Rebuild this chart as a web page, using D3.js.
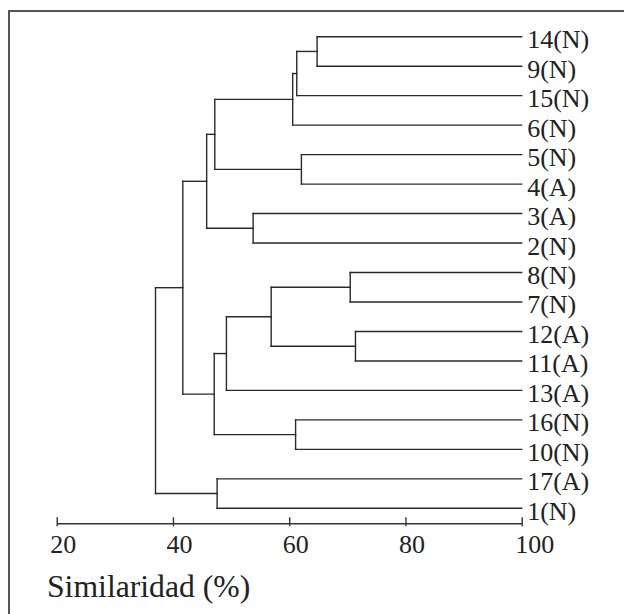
<!DOCTYPE html>
<html>
<head>
<meta charset="utf-8">
<script src="https://cdn.jsdelivr.net/npm/d3@7"></script>
<style>
  html, body { margin: 0; padding: 0; background: #fff; }
  svg { display: block; }
</style>
</head>
<body>
<script>
// Leaves, top to bottom
const leaves = ["14(N)","9(N)","15(N)","6(N)","5(N)","4(A)","3(A)","2(N)","8(N)","7(N)","12(A)","11(A)","13(A)","16(N)","10(N)","17(A)","1(N)"];
// Merges: [childA, childB, similarity]; ids < 17 are leaves, id 17+k is merge k
const mergeA = [0, 17, 18, 4, 19, 6, 21, 8, 10, 24, 26, 13, 27, 23, 15, 30];
const mergeB = [1, 2, 3, 5, 20, 7, 22, 9, 11, 25, 12, 14, 28, 29, 16, 31];
const mergeSim = [64.8, 61.3, 60.6, 62.1, 47.2, 53.8, 45.8, 70.5, 71.4, 56.9, 49.2, 61.1, 47.1, 41.7, 47.6, 37.0];
const tickValues = [20, 40, 60, 80, 100];
const axisTitle = "Similaridad (%)";

const FONT = "'Liberation Serif', serif";
const W = 624, H = 614;
const svg = d3.select("body").append("svg").attr("width", W).attr("height", H);

// frame (top + left)
svg.append("path")
  .attr("d", `M9,614 L9,11 L624,11`)
  .attr("fill", "none").attr("stroke", "#555").attr("stroke-width", 2);

const x = d3.scaleLinear().domain([20, 100]).range([56.7, 521.7]);
const y = d3.scalePoint().domain(leaves).range([36.7, 508.3]);

// build node table
const nodes = leaves.map(l => ({ name: l, sim: 100, y: y(l) }));
mergeA.forEach((a, i) => {
  const A = nodes[a], B = nodes[mergeB[i]];
  nodes.push({ children: [A, B], sim: mergeSim[i], y: (A.y + B.y) / 2 });
});
const root = d3.hierarchy(nodes[nodes.length - 1]);

const g = svg.append("g");
root.each(n => {
  if (!n.children) return;
  const d = n.data;
  const xs = x(d.sim);
  const ys = n.children.map(c => c.data.y);
  g.append("line").attr("x1", xs).attr("x2", xs)
    .attr("y1", d3.min(ys)).attr("y2", d3.max(ys));
  n.children.forEach(c => {
    g.append("line").attr("x1", xs).attr("x2", x(c.data.sim))
      .attr("y1", c.data.y).attr("y2", c.data.y);
  });
});
g.selectAll("line").attr("stroke", "#2a2a2a").attr("stroke-width", 1.4).attr("stroke-linecap", "square");

// leaf labels
svg.append("g").selectAll("text").data(leaves).join("text")
  .attr("x", x(100) + 5.5)
  .attr("y", d => y(d) + 11.5)
  .style("font-family", FONT)
  .style("font-size", "26px")
  .attr("fill", "#222")
  .text(d => d);

// axis
const axisY = 523.3;
const ax = svg.append("g").attr("transform", `translate(0,${axisY})`)
  .call(d3.axisBottom(x).tickValues(tickValues).tickSizeOuter(0).tickFormat(d3.format("d")));
ax.select(".domain").attr("stroke", "#333").attr("stroke-width", 1.4);
ax.selectAll(".tick line").attr("y1", -6).attr("y2", 3).attr("stroke", "#333").attr("stroke-width", 1.4);
ax.selectAll(".tick text")
  .attr("y", 29.4).attr("dy", null).attr("x", -7)
  .attr("text-anchor", "start")
  .style("font-family", FONT)
  .style("font-size", "26px")
  .attr("fill", "#222");

svg.append("text")
  .attr("x", 47).attr("y", 597.3)
  .style("font-family", FONT)
  .style("font-size", "31.7px")
  .attr("fill", "#222")
  .text(axisTitle);
</script>
</body>
</html>
